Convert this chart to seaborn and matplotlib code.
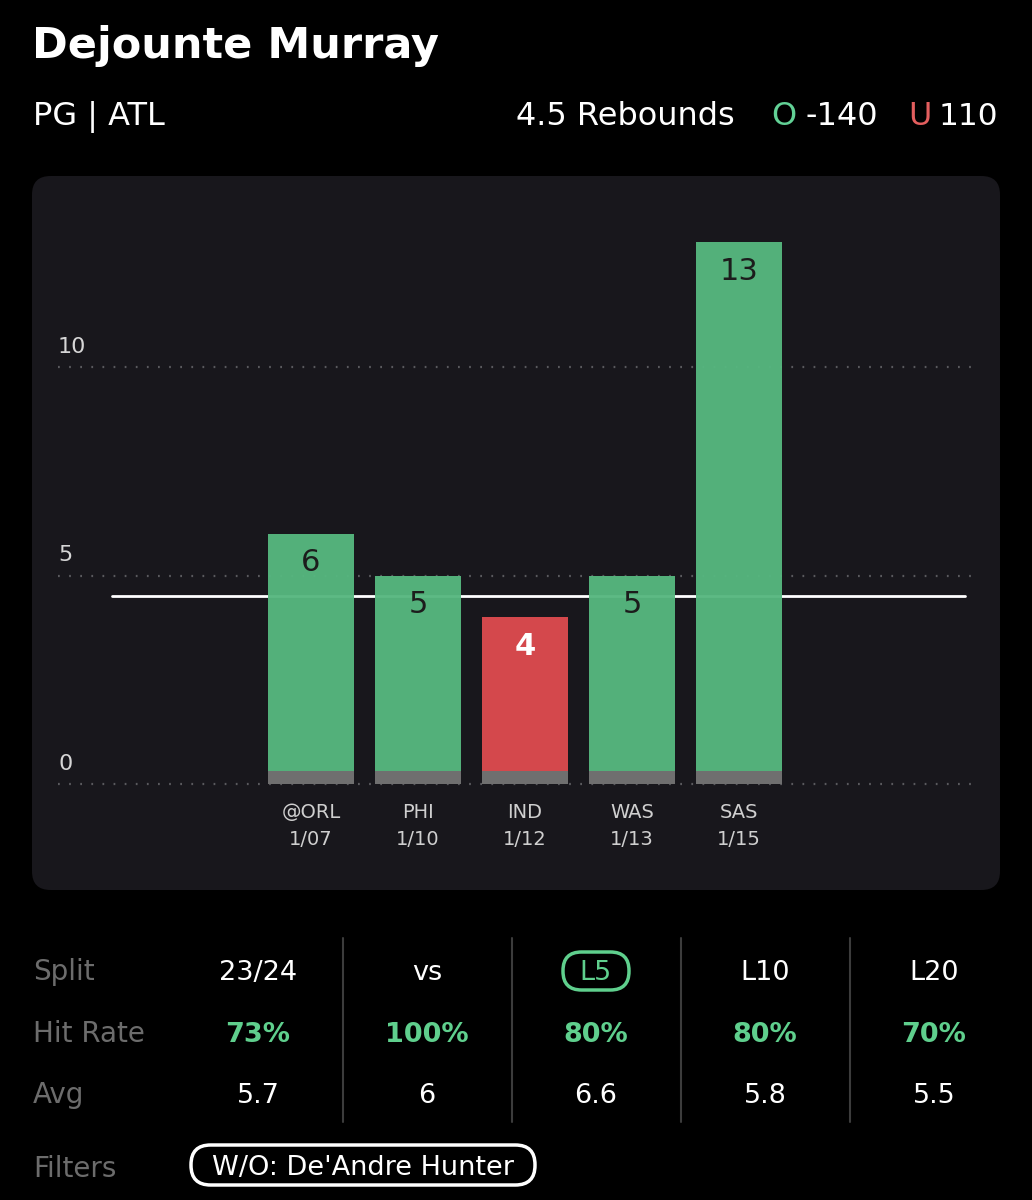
import matplotlib
matplotlib.use('Agg')
import matplotlib.pyplot as plt
from matplotlib.patches import FancyBboxPatch
from matplotlib.lines import Line2D
import seaborn as sns
import pandas as pd

# chart data
player = 'Dejounte Murray'
position_team = 'PG | ATL'
prop_label = '4.5 Rebounds'
over_odds = '-140'
under_odds = '110'
line_value = 4.5

opponents = ['@ORL', 'PHI', 'IND', 'WAS', 'SAS']
dates = ['1/07', '1/10', '1/12', '1/13', '1/15']
rebounds = [6, 5, 4, 5, 13]
y_ticks = [0, 5, 10]

# split table
split_cols = ['23/24', 'vs', 'L5', 'L10', 'L20']
hit_rates = ['73%', '100%', '80%', '80%', '70%']
averages = ['5.7', '6', '6.6', '5.8', '5.5']
selected_split = 'L5'
filter_text = "W/O: De'Andre Hunter"

GREEN = '#56b77f'
RED = '#dd4b4f'
TEXT_GREEN = '#5fcf8d'
PANEL = '#18171c'
GRAY_LABEL = '#6c6c6c'

W, H = 1032, 1200

sns.set_theme(style='dark')
plt.rcParams['font.family'] = ['DejaVu Sans']

fig = plt.figure(figsize=(W / 100, H / 100), dpi=100, facecolor='black')


def fx(px):
    return px / W


def fy(py):
    return 1 - py / H


# header
fig.text(fx(32), fy(58), player, color='white', fontsize=31, fontweight='bold', va='baseline')
fig.text(fx(33), fy(125), position_team, color='white', fontsize=23, va='baseline')
fig.text(fx(998), fy(125), under_odds, color='white', fontsize=22.5, va='baseline', ha='right')
fig.text(fx(932), fy(125), 'U', color='#e35e5e', fontsize=23, va='baseline', ha='right')
fig.text(fx(878), fy(125), over_odds, color='white', fontsize=23, va='baseline', ha='right')
fig.text(fx(796), fy(125), 'O', color='#62d196', fontsize=23, va='baseline', ha='right')
fig.text(fx(735), fy(125), prop_label, color='white', fontsize=23, va='baseline', ha='right')

# chart panel
panel = FancyBboxPatch((fx(32), fy(890)), fx(1000) - fx(32), fy(176) - fy(890),
                       boxstyle='round,pad=0,rounding_size=0.018', mutation_aspect=W / H,
                       transform=fig.transFigure, facecolor=PANEL, edgecolor='none', zorder=0)
fig.add_artist(panel)

# axes: y=0 at px 784, 1 unit = 41.7 px, bar slots 107 px apart, first at px 311
unit = 41.7
ax = fig.add_axes([fx(58), fy(784), fx(972) - fx(58), (784 - 190) / H])
ax.set_zorder(2)
ax.set_facecolor('none')

df = pd.DataFrame({'opp': opponents, 'date': dates, 'reb': rebounds})
df['result'] = ['over' if r > line_value else 'under' for r in df['reb']]

for t in y_ticks:
    ax.axhline(t, color='#5a5a5e', lw=1.6, linestyle=(0, (0.8, 4.2)), zorder=1, clip_on=False)
ax.axhline(line_value, xmin=(112 - 58) / 914, xmax=(965 - 58) / 914, color='white', lw=2, zorder=1.5)

sns.barplot(data=df, x='opp', y='reb', hue='result', palette={'over': GREEN, 'under': RED},
            order=opponents, dodge=False, legend=False, width=0.8, alpha=0.96,
            saturation=1, linewidth=0, ax=ax, zorder=2)
sns.barplot(x=opponents, y=[0.3] * len(opponents), color='#6f6f6f', order=opponents,
            width=0.8, saturation=1, linewidth=0, ax=ax, zorder=3)

for i, (v, res) in enumerate(zip(df['reb'], df['result'])):
    ax.text(i, v - 0.7, str(v), ha='center', va='center', fontsize=22,
            fontweight='bold' if res == 'under' else 'normal',
            color='white' if res == 'under' else '#1c1c1c', zorder=4)

ax.set_xlim((58 - 311) / 107, (972 - 311) / 107)
ax.set_ylim(0, (784 - 190) / unit)
ax.set_xticks(range(len(opponents)))
ax.set_xticklabels([f'{o}\n{d}' for o, d in zip(opponents, dates)], color='#cfcfcf',
                   fontsize=14, linespacing=1.5)
ax.tick_params(axis='x', length=0, pad=14)
ax.set_yticks([])
ax.set_xlabel('')
ax.set_ylabel('')
for t in y_ticks:
    ax.text((58 - 311) / 107, t + 0.25, str(t), color='#d6d6d6', fontsize=16, ha='left', va='bottom')
for s in ax.spines.values():
    s.set_visible(False)
ax.grid(False)

# split table
col_x = [258, 427, 596, 765, 934]
row_y = [980, 1042, 1103]
for label, y in zip(['Split', 'Hit Rate', 'Avg'], row_y):
    fig.text(fx(33), fy(y), label, color=GRAY_LABEL, fontsize=20, va='baseline')
for cx, s, hr, av in zip(col_x, split_cols, hit_rates, averages):
    fig.text(fx(cx), fy(row_y[0]), s, color=TEXT_GREEN if s == selected_split else 'white',
             fontsize=19.5, ha='center', va='baseline')
    fig.text(fx(cx), fy(row_y[1]), hr, color=TEXT_GREEN, fontsize=19.5, fontweight='bold',
             ha='center', va='baseline')
    fig.text(fx(cx), fy(row_y[2]), av, color='white', fontsize=19.5, ha='center', va='baseline')
    if s == selected_split:
        pill = FancyBboxPatch((fx(cx - 33), fy(990)), fx(66), 38 / H,
                              boxstyle='round,pad=0,rounding_size=0.018', mutation_aspect=W / H,
                              transform=fig.transFigure, facecolor='none', edgecolor=TEXT_GREEN, lw=2.5)
        fig.add_artist(pill)

for dx in [343, 512, 681, 850]:
    fig.add_artist(Line2D([fx(dx), fx(dx)], [fy(938), fy(1122)], color='#3c3c3c', lw=1.5,
                          transform=fig.transFigure))

fig.text(fx(33), fy(1177), 'Filters', color=GRAY_LABEL, fontsize=20, va='baseline')
fpill = FancyBboxPatch((fx(191), fy(1185)), fx(344), 40 / H,
                       boxstyle='round,pad=0,rounding_size=0.019', mutation_aspect=W / H,
                       transform=fig.transFigure, facecolor='none', edgecolor='white', lw=2.5)
fig.add_artist(fpill)
fig.text(fx(363), fy(1175), filter_text, color='white', fontsize=19.5, ha='center', va='baseline')

fig.savefig('out.png', dpi=100, facecolor='black')
